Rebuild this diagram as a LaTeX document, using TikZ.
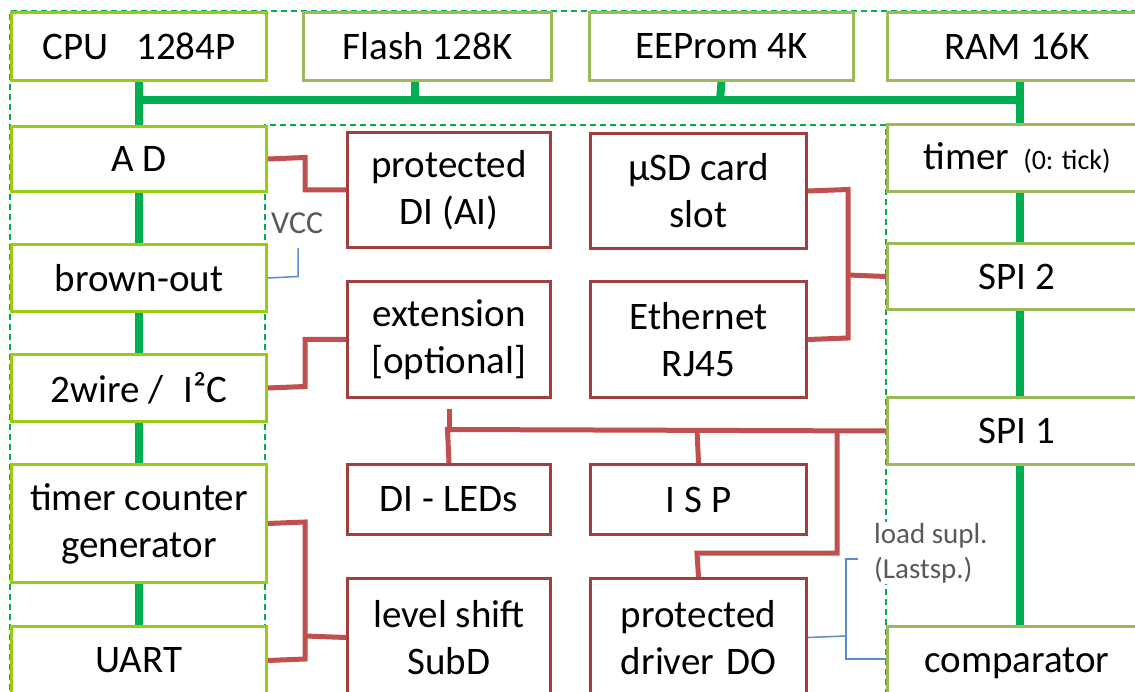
\documentclass[tikz,border=0pt]{standalone}
\usepackage{fontspec}
\setmainfont{Carlito}
\usetikzlibrary{calc}
\definecolor{cLime}{HTML}{99CC14}
\definecolor{cOlive}{HTML}{9BBB59}
\definecolor{cBus}{HTML}{00B050}
\definecolor{cRedLine}{HTML}{C0504D}
\definecolor{cRedBox}{HTML}{A0403E}
\definecolor{cBlue}{HTML}{5B8BC9}
\definecolor{cLabel}{HTML}{595959}
\newcommand\drawbox[7]{\node[#6, minimum width={#4-#2}, minimum height={#5-#3}] (#1) at (#2,#3) {#7};}
\tikzset{
  boxbase/.style={draw, fill=white, line width=3pt, inner sep=0pt, align=center, anchor=north west},
  limebox/.style={boxbase, draw=cLime},
  olivebox/.style={boxbase, draw=cOlive},
  redbox/.style={boxbase, draw=cRedBox},
  busline/.style={draw=cBus, line width=8pt},
  rline/.style={draw=cRedLine, line width=5pt},
  bline/.style={draw=cBlue, line width=1.5pt},
  frameline/.style={draw=cBus, line width=1.2pt, dash pattern=on 6pt off 4pt},
  smalllabel/.style={text=cLabel, inner sep=1pt, font=\fontsize{32}{38}\selectfont}
}
\begin{document}
\begin{tikzpicture}[x=1pt, y=-1pt, font=\fontsize{39}{47}\selectfont]
\clip (0,0) rectangle (1135,692);
\fill[white] (0,0) rectangle (1135,692);
% dashed chip frame
\draw[frameline] (10,700) -- (10,11) -- (1140,11);
\draw[frameline] (265,700) -- (265,125) -- (886,125) -- (886,700);
% left column
\drawbox{cpu}{10}{11}{265}{79}{limebox}{CPU\hspace{28pt}1284P}
\drawbox{ad}{10}{125}{265}{190}{limebox}{A D}
\drawbox{bo}{10}{243}{265}{310}{limebox}{brown-out}
\drawbox{twi}{10}{353}{265}{420}{limebox}{2wire /\hspace{20pt}I²C}
\drawbox{tcg}{10}{463}{265}{581}{limebox}{timer counter\\generator}
\drawbox{uart}{10}{625}{265}{693}{limebox}{UART}
% top row
\drawbox{flash}{302}{11}{550}{79}{olivebox}{Flash 128K}
\drawbox{eep}{588}{11}{852}{79}{olivebox}{EEProm 4K}
\drawbox{ram}{886}{11}{1145}{79}{olivebox}{RAM 16K}
% right column
\drawbox{tmr}{886}{123}{1145}{190}{olivebox}{timer\hspace{14pt}{\fontsize{28}{32}\selectfont (0: tick)}}
\drawbox{spi2}{886}{242}{1145}{308}{olivebox}{SPI 2}
\drawbox{spi1}{886}{396}{1145}{463}{olivebox}{SPI 1}
\drawbox{comp}{886}{625}{1145}{699}{olivebox}{comparator}
% middle
\drawbox{pdi}{346}{131}{549}{246}{redbox}{protected\\DI (AI)}
\drawbox{usd}{589}{132}{805}{247}{redbox}{µSD card\\slot}
\drawbox{ext}{346}{280}{549}{396}{redbox}{extension\\{[optional]}}
\drawbox{eth}{589}{280}{805}{396}{redbox}{Ethernet\\RJ45}
\drawbox{led}{346}{463}{549}{533}{redbox}{DI - LEDs}
\drawbox{isp}{589}{463}{805}{533}{redbox}{I S P}
\drawbox{lvl}{346}{577}{549}{695}{redbox}{level shift\\SubD}
\drawbox{pdo}{589}{577}{805}{695}{redbox}{protected\\driver\hspace{12pt}DO}
% green bus
\draw[busline] (cpu.south) -- (ad.north);
\draw[busline] (137.5,100) -- (1020,100);
\draw[busline] (flash.south -| 415,0) -- (415,100);
\draw[busline] (eep.south) -- (720,100);
\draw[busline] (ram.south -| 1020,0) -- (tmr.north -| 1020,0);
\draw[busline] (ad.south) -- (bo.north);
\draw[busline] (bo.south) -- (twi.north);
\draw[busline] (twi.south) -- (tcg.north);
\draw[busline] (tcg.south) -- (uart.north);
\draw[busline] (tmr.south -| 1020,0) -- (spi2.north -| 1020,0);
\draw[busline] (spi2.south -| 1020,0) -- (spi1.north -| 1020,0);
\draw[busline] (spi1.south -| 1020,0) -- (comp.north -| 1020,0);
% red connectors
\draw[rline] (ad.east) -- (305,157.5) |- (pdi.west);
\draw[rline] (twi.east) -- (305,386.5) |- (ext.west);
\draw[rline] (usd.east) -- (848,189.5) -- (848,338) -- (eth.east);
\draw[rline] (848,275) -- (spi2.west);
\draw[rline] (spi1.west) -- (447.5,429.5) -- (led.north);
\draw[rline] ($(ext.south)+(0,10)$) -- ($(ext.south)+(0,29)$);
\draw[rline] (isp.north) -- (697,429.5);
\draw[rline] (837,429.5) -- (837,553) -- (697,553) -- (pdo.north);
\draw[rline] (tcg.east) -- (305,522) -- (305,659) -- (uart.east);
\draw[rline] (305,636) -- (lvl.west);
% blue connectors
\draw[bline] (bo.east) -- (298,276.5) -- (298,248);
\draw[bline] (pdo.east) -- (846,636);
\draw[bline] (858,559) -- (846,559) -- (846,659) -- (comp.west |- 0,659);
% labels
\node[smalllabel, anchor=west] (vcc) at (270,223) {VCC};
\node[smalllabel, anchor=north west, align=left, fill=white, font=\fontsize{29}{35}\selectfont] (load) at (873,522) {load supl.\\(Lastsp.)};
\end{tikzpicture}
\end{document}
